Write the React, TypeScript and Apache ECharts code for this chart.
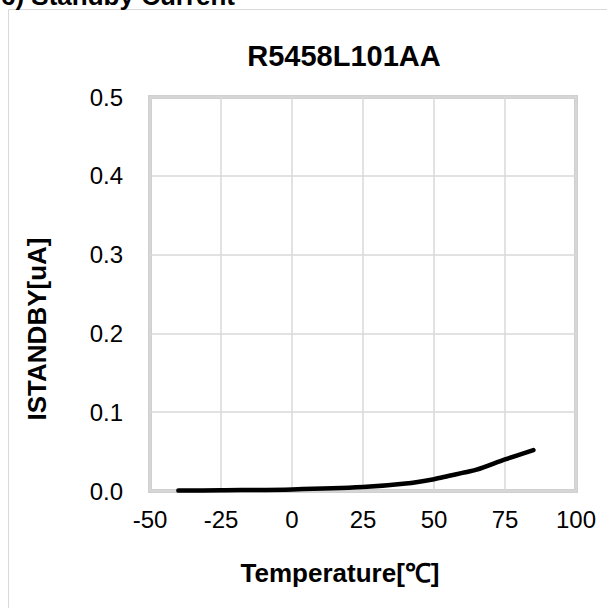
import React, { useEffect, useRef } from "react";
import * as echarts from "echarts";

const temperatures = [-40, -25, 0, 25, 40, 50, 55, 60, 65, 75, 85];
const standbyCurrent = [0.0005, 0.001, 0.002, 0.005, 0.0095, 0.015, 0.019, 0.023, 0.027, 0.04, 0.052];
const chartTitle = "R5458L101AA";
const sectionTitle = "6) Standby Current";
const xAxisName = "Temperature[℃]";
const yAxisName = "ISTANDBY[uA]";

const FONT = "'Liberation Sans', Arial, sans-serif";

export default function App() {
  const ref = useRef<HTMLDivElement>(null);
  useEffect(() => {
    document.body.style.margin = "0";
    const chart = echarts.init(ref.current!, null, { renderer: "svg" });
    chart.setOption({
      animation: false,
      backgroundColor: "#ffffff",
      grid: {
        left: 150,
        right: 31,
        top: 97,
        bottom: 117,
        show: true,
        borderColor: "#d0d0d0",
        borderWidth: 4,
      },
      xAxis: {
        type: "value",
        min: -50,
        max: 100,
        interval: 25,
        axisLine: { show: false },
        axisTick: { show: false },
        splitLine: { show: true, lineStyle: { color: "#d9d9d9", width: 1.5 } },
        axisLabel: { color: "#000", fontSize: 24, fontFamily: FONT, margin: 16 },
      },
      yAxis: {
        type: "value",
        min: 0,
        max: 0.5,
        interval: 0.1,
        axisLine: { show: false },
        axisTick: { show: false },
        splitLine: { show: true, lineStyle: { color: "#d9d9d9", width: 1.5 } },
        axisLabel: {
          color: "#000",
          fontSize: 24,
          fontFamily: FONT,
          margin: 27,
          formatter: (v: number) => v.toFixed(1),
        },
      },
      series: [
        {
          type: "line",
          data: temperatures.map((t, i) => [t, standbyCurrent[i]]),
          showSymbol: false,
          symbol: "none",
          smooth: 0.3,
          lineStyle: { color: "#000", width: 4.5, cap: "round", join: "round" },
        },
      ],
      graphic: [
        {
          type: "rect",
          shape: { x: 8.5, y: 9.5, width: 700, height: 700 },
          style: { fill: "none", stroke: "#d9d9d9", lineWidth: 1 },
          silent: true,
        },
        {
          type: "text",
          x: 1,
          y: 9,
          style: {
            text: sectionTitle,
            fill: "#000",
            font: `bold 26px ${FONT}`,
            align: "left",
            verticalAlign: "bottom",
          },
        },
        {
          type: "text",
          x: 344,
          y: 56,
          style: {
            text: chartTitle,
            fill: "#000",
            font: `bold 29px ${FONT}`,
            align: "center",
            verticalAlign: "middle",
          },
        },
        {
          type: "text",
          x: 340,
          y: 573,
          style: {
            text: xAxisName,
            fill: "#000",
            font: `bold 26px ${FONT}`,
            align: "center",
            verticalAlign: "middle",
          },
        },
        {
          type: "text",
          x: 37,
          y: 329,
          rotation: Math.PI / 2,
          style: {
            text: yAxisName,
            fill: "#000",
            font: `bold 26px ${FONT}`,
            align: "center",
            verticalAlign: "middle",
          },
        },
      ],
    });
    return () => chart.dispose();
  }, []);
  return (
    <div
      ref={ref}
      style={{ position: "absolute", left: 0, top: 0, width: 607, height: 608 }}
    />
  );
}
